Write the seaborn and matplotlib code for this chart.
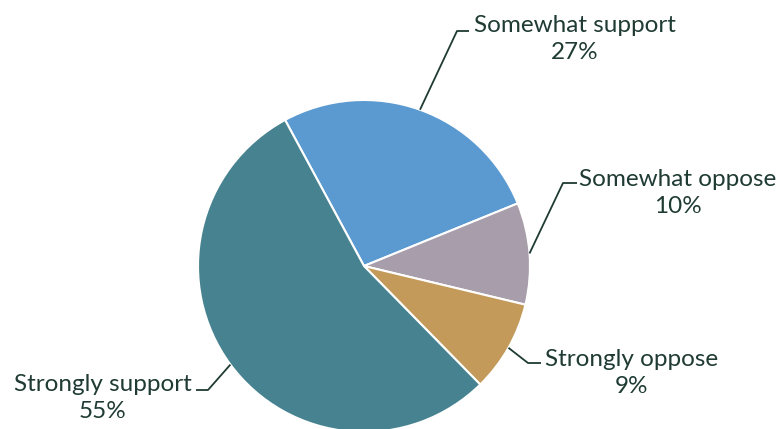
import numpy as np
import matplotlib
matplotlib.use("Agg")
import matplotlib.pyplot as plt
import seaborn as sns

# values in the order they go round the pie (clockwise)
labels = ["Somewhat support", "Somewhat oppose", "Strongly oppose", "Strongly support"]
values = [27, 10, 9, 55]
colors = ["#5B9AD1", "#A89EAB", "#C49A5A", "#46828F"]

sns.set_theme(style="white")
plt.rcParams['font.family'] = ['Lato', 'DejaVu Sans']
txt_color = "#1F3B33"

fig = plt.figure(figsize=(7.81, 4.29), dpi=100)
ax = fig.add_axes([0, 0, 1, 1])

cx, cy, r = 364, 163, 166
wedges, _ = ax.pie(values, colors=colors, startangle=118.4, counterclock=False,
                   center=(cx, cy), radius=r, frame=True,
                   wedgeprops=dict(edgecolor="white", linewidth=1.5))
ax.set_xlim(0, 781)
ax.set_ylim(0, 429)
ax.set_aspect('equal')
ax.axis('off')

# elbow of leader line, end of horizontal bit, text centre
layout = {
    "Somewhat support": ((457, 398), (469, 398), (575, 390)),
    "Somewhat oppose": ((563, 246), (577, 246), (678, 236)),
    "Strongly oppose": ((528, 66), (541, 66), (632, 56)),
    "Strongly support": ((208, 39), (196, 39), (103, 31)),
}

for w, lab, v in zip(wedges, labels, values):
    ang = np.deg2rad((w.theta1 + w.theta2) / 2)
    px, py = cx + r * np.cos(ang), cy + r * np.sin(ang)
    (ex, ey), (hx, hy), (tx, ty) = layout[lab]
    ax.plot([px, ex, hx], [py, ey, hy], color=txt_color, lw=1.3, solid_capstyle='butt')
    ax.text(tx, ty, f"{lab}\n{v}%", ha='center', va='center', fontsize=17.5,
            color=txt_color, linespacing=1.35)

fig.savefig("out.png", dpi=100)
